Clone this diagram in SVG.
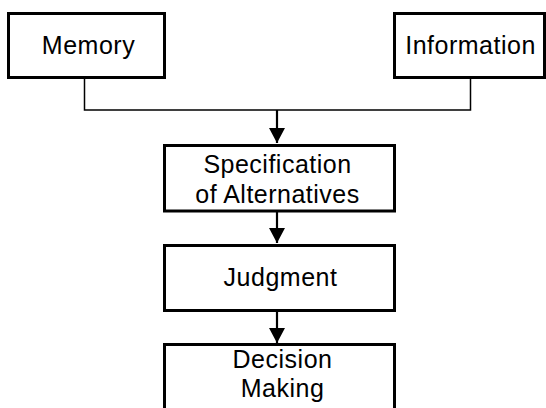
<svg xmlns="http://www.w3.org/2000/svg" width="546" height="408" viewBox="0 0 546 408">
<defs>
<style>
.box{fill:#fff;stroke:#000;stroke-width:3}
.t{font-family:"Liberation Sans",Arial,sans-serif;font-size:25px;letter-spacing:0.5px;fill:#000;text-anchor:middle}
.c{fill:none;stroke:#000;stroke-width:1.5}
.a{fill:none;stroke:#000;stroke-width:2.2}
</style>
<marker id="ah" markerUnits="userSpaceOnUse" viewBox="0 0 15 16" refX="15" refY="8" markerWidth="15" markerHeight="16" orient="auto">
<path d="M0,0 L15,8 L0,16 z" fill="#000"/>
</marker>
</defs>
<rect width="546" height="408" fill="#fff"/>
<g id="connectors">
<polyline class="c" points="84.5,79 84.5,110 470.5,110 470.5,79"/>
<line class="a" x1="277" y1="110" x2="277" y2="143" marker-end="url(#ah)"/>
<line class="a" x1="277" y1="212" x2="277" y2="243" marker-end="url(#ah)"/>
<line class="a" x1="277" y1="312" x2="277" y2="343" marker-end="url(#ah)"/>
</g>
<g id="memory">
<rect class="box" x="8.5" y="13.5" width="156" height="64"/>
<text class="t" x="88.5" y="54">Memory</text>
</g>
<g id="information">
<rect class="box" x="394.5" y="13.5" width="150" height="64"/>
<text class="t" x="470.5" y="54">Information</text>
</g>
<g id="specification">
<rect class="box" x="164.5" y="145.5" width="230" height="65.5"/>
<text class="t" x="277.5" y="173">Specification</text>
<text class="t" x="277.5" y="203">of Alternatives</text>
</g>
<g id="judgment">
<rect class="box" x="164.5" y="245.5" width="230" height="65"/>
<text class="t" x="280.5" y="286">Judgment</text>
</g>
<g id="decision">
<rect class="box" x="164.5" y="344.5" width="230" height="70"/>
<text class="t" x="282.5" y="368">Decision</text>
<text class="t" x="282.5" y="397">Making</text>
</g>
</svg>
